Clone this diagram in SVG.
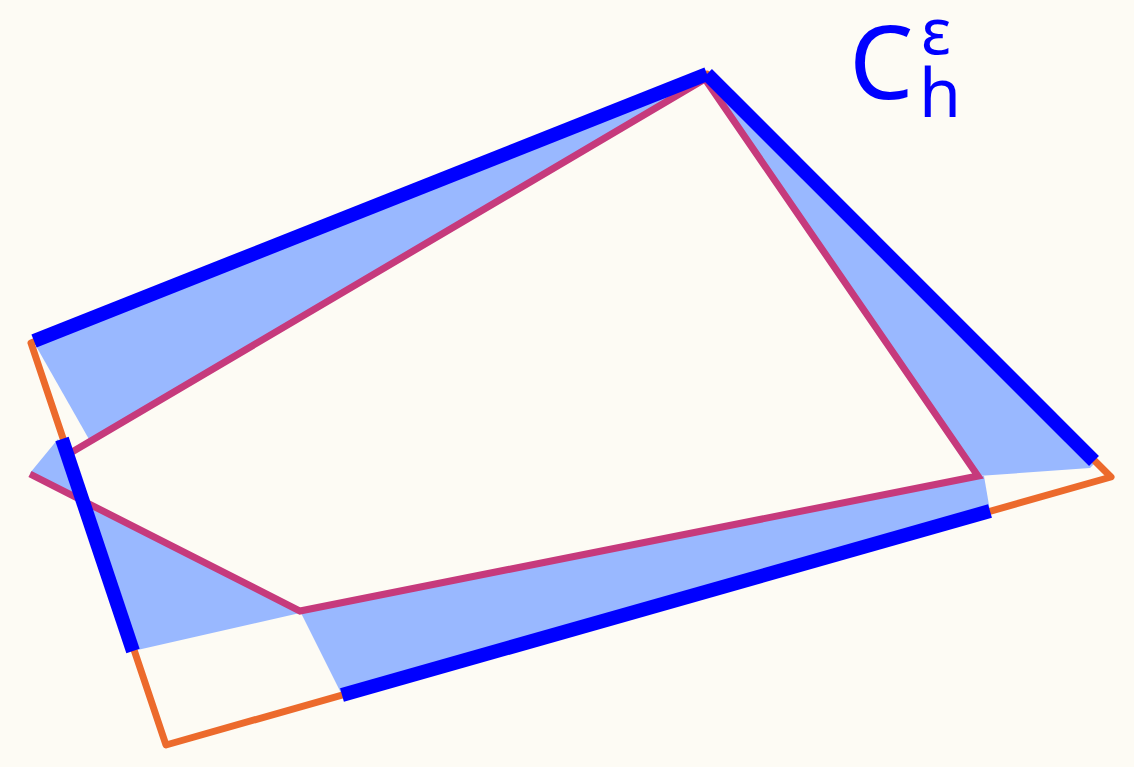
<svg xmlns="http://www.w3.org/2000/svg" width="1134" height="767" viewBox="0 0 1134 767">
<style>
.fill{fill:#99b8ff;stroke:none}
.outer{fill:none;stroke:#ec6a2c;stroke-width:7;stroke-linejoin:round}
.inner{fill:none;stroke:#c63a7c;stroke-width:7;stroke-linejoin:miter}
.edge{stroke:#0000ff;stroke-width:14;stroke-linecap:butt}
.lbl{font-family:"Noto Sans","Open Sans",sans-serif;fill:#0000ff}
</style>
<rect width="1134" height="767" fill="#fdfbf4"/>
<g id="region">
<polygon class="fill" points="34,341 707,74 705,80 90,441 36,346"/>
<polygon class="fill" points="707,74 1096,462 1090,468 978,476 705,79"/>
<polygon class="fill" points="300,611 978,476 984,476 990,511 342,695"/>
<polygon class="fill" points="30,473 58,439 133,651 300,613"/>
</g>
<g id="outer-polygon">
<polygon class="outer" points="31,343 707,74 1111,477 166,745"/>
</g>
<g id="inner-polygon">
<polyline class="inner" points="30,474 300,611 978,476 705,79 72,452"/>
</g>
<g id="connectors">
<line class="edge" x1="34" y1="341" x2="707" y2="74"/>
<line class="edge" x1="707" y1="74" x2="1094" y2="461"/>
<line class="edge" x1="990" y1="511" x2="342" y2="695"/>
<line class="edge" x1="62" y1="439" x2="133" y2="651"/>
</g>
<g id="label">
<text class="lbl" x="849" y="99" font-size="102">C</text>
<text class="lbl" x="921" y="54" font-size="64">ε</text>
<text class="lbl" x="919" y="117" font-size="68">h</text>
</g>
</svg>
